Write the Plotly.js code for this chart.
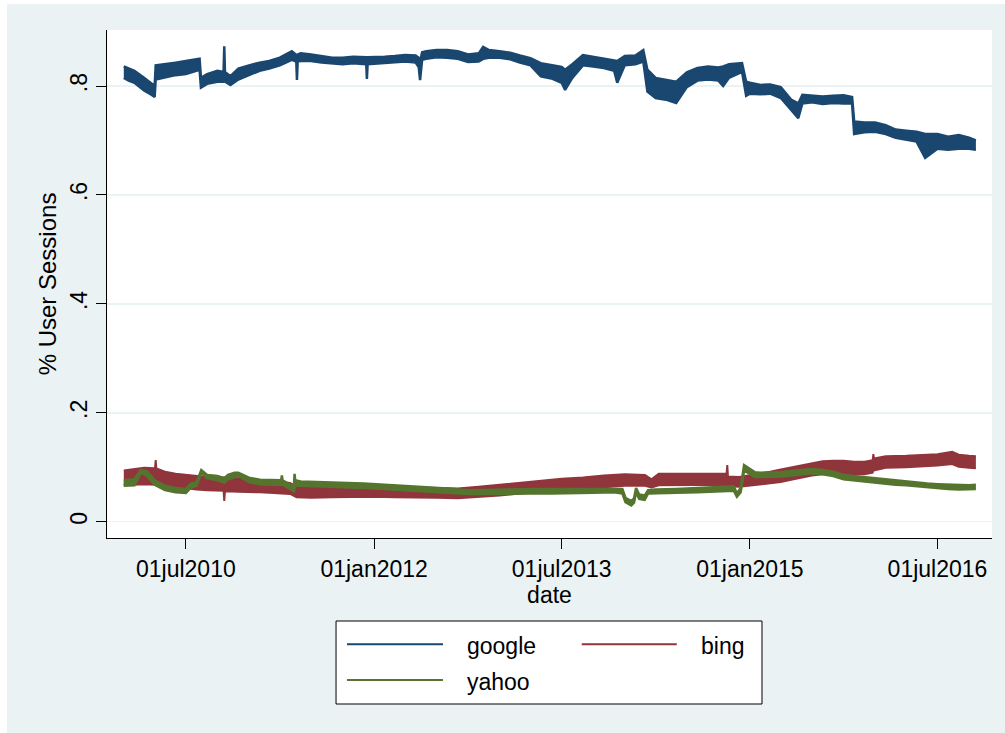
<!DOCTYPE html>
<html>
<head>
<meta charset="utf-8">
<script src="https://cdn.plot.ly/plotly-3.0.1.min.js"></script>
<style>
  html, body { margin: 0; padding: 0; background: #ffffff; }
  #chart { position: absolute; left: 7px; top: 4px; width: 998px; height: 729px; }
</style>
</head>
<body>
<div id="chart"></div>
<script>
// ---- Data (daily series shown as low/high envelopes) ----
const googleDates = ['2010-01-01','2010-01-15','2010-02-01','2010-03-01','2010-03-20','2010-04-01','2010-04-04','2010-05-01','2010-06-01','2010-07-01','2010-08-10','2010-08-14','2010-09-01','2010-10-01','2010-10-19','2010-10-21','2010-10-23','2010-11-08','2010-12-01','2011-01-01','2011-02-01','2011-03-01','2011-04-01','2011-05-06','2011-05-19','2011-05-21','2011-05-23','2011-06-01','2011-07-01','2011-08-01','2011-09-01','2011-10-01','2011-11-01','2011-12-09','2011-12-11','2011-12-13','2012-01-01','2012-02-01','2012-03-01','2012-04-01','2012-05-01','2012-05-10','2012-05-14','2012-05-20','2012-06-01','2012-07-01','2012-08-01','2012-09-01','2012-10-01','2012-11-01','2012-11-14','2012-12-01','2013-01-01','2013-02-01','2013-03-01','2013-04-01','2013-05-01','2013-06-01','2013-07-01','2013-07-11','2013-08-01','2013-09-01','2013-10-01','2013-11-01','2013-12-01','2013-12-10','2014-01-01','2014-02-01','2014-02-24','2014-03-08','2014-04-01','2014-05-01','2014-05-31','2014-07-01','2014-08-01','2014-09-01','2014-10-01','2014-10-15','2014-11-01','2014-12-09','2014-12-21','2015-01-01','2015-02-01','2015-03-01','2015-04-01','2015-05-01','2015-05-22','2015-06-03','2015-07-01','2015-08-01','2015-09-01','2015-10-01','2015-10-26','2015-11-01','2015-12-01','2016-01-01','2016-02-01','2016-03-01','2016-04-01','2016-05-01','2016-05-26','2016-07-01','2016-08-01','2016-09-01','2016-10-01','2016-10-21'];
const googleLow  = [0.815,0.810,0.806,0.792,0.785,0.780,0.812,0.816,0.820,0.822,0.830,0.797,0.804,0.808,0.808,0.810,0.808,0.802,0.812,0.820,0.828,0.832,0.838,0.848,0.845,0.811,0.845,0.846,0.846,0.843,0.841,0.840,0.842,0.840,0.813,0.840,0.841,0.842,0.843,0.845,0.843,0.835,0.811,0.848,0.850,0.853,0.852,0.850,0.844,0.845,0.850,0.852,0.852,0.849,0.843,0.838,0.818,0.814,0.806,0.793,0.815,0.838,0.836,0.833,0.828,0.806,0.838,0.840,0.845,0.790,0.778,0.775,0.769,0.798,0.810,0.812,0.810,0.800,0.815,0.826,0.782,0.786,0.785,0.786,0.778,0.755,0.741,0.768,0.770,0.767,0.769,0.768,0.768,0.712,0.715,0.716,0.712,0.705,0.702,0.698,0.668,0.685,0.683,0.685,0.685,0.683];
const googleHigh = [0.836,0.832,0.828,0.815,0.806,0.800,0.838,0.840,0.843,0.846,0.850,0.815,0.822,0.828,0.826,0.873,0.826,0.818,0.832,0.838,0.843,0.846,0.852,0.864,0.858,0.856,0.858,0.860,0.858,0.855,0.852,0.852,0.854,0.853,0.852,0.853,0.853,0.854,0.855,0.857,0.856,0.852,0.845,0.862,0.864,0.866,0.866,0.864,0.858,0.860,0.872,0.866,0.864,0.861,0.856,0.851,0.842,0.838,0.835,0.830,0.840,0.857,0.854,0.850,0.848,0.846,0.855,0.856,0.866,0.830,0.815,0.812,0.808,0.825,0.833,0.836,0.834,0.836,0.840,0.842,0.808,0.806,0.802,0.803,0.798,0.775,0.768,0.784,0.783,0.781,0.782,0.783,0.780,0.735,0.733,0.733,0.728,0.720,0.718,0.716,0.712,0.712,0.707,0.710,0.705,0.700];

const bingDates = ['2010-01-01','2010-02-01','2010-03-01','2010-04-02','2010-04-04','2010-04-06','2010-05-01','2010-06-01','2010-07-01','2010-08-01','2010-09-01','2010-10-19','2010-10-21','2010-10-23','2010-12-01','2011-01-01','2011-02-01','2011-03-01','2011-04-01','2011-05-01','2011-05-20','2011-07-01','2011-09-01','2011-11-01','2012-01-01','2012-03-01','2012-05-01','2012-07-01','2012-09-01','2012-11-01','2013-01-01','2013-03-01','2013-05-01','2013-07-01','2013-09-01','2013-11-01','2014-01-01','2014-03-01','2014-03-20','2014-04-10','2014-06-01','2014-08-01','2014-10-25','2014-10-27','2014-10-29','2014-12-01','2015-01-01','2015-02-01','2015-03-01','2015-04-01','2015-05-01','2015-06-01','2015-07-01','2015-08-01','2015-09-01','2015-10-01','2015-11-01','2015-12-01','2015-12-25','2015-12-27','2015-12-29','2016-02-01','2016-04-01','2016-06-01','2016-07-01','2016-08-13','2016-09-01','2016-10-01','2016-10-21'];
const bingLow  = [0.067,0.068,0.069,0.068,0.070,0.068,0.066,0.063,0.061,0.059,0.058,0.057,0.038,0.056,0.055,0.055,0.054,0.053,0.052,0.051,0.045,0.044,0.045,0.046,0.046,0.045,0.045,0.044,0.043,0.045,0.048,0.052,0.055,0.058,0.060,0.064,0.066,0.066,0.063,0.067,0.067,0.067,0.068,0.070,0.065,0.064,0.066,0.068,0.070,0.073,0.077,0.081,0.085,0.087,0.088,0.088,0.087,0.087,0.090,0.095,0.094,0.099,0.100,0.102,0.103,0.106,0.101,0.099,0.098];
const bingHigh = [0.094,0.097,0.099,0.098,0.113,0.098,0.092,0.088,0.086,0.084,0.082,0.081,0.081,0.080,0.080,0.079,0.077,0.075,0.073,0.071,0.064,0.064,0.064,0.065,0.064,0.064,0.063,0.062,0.061,0.064,0.068,0.072,0.076,0.079,0.081,0.085,0.087,0.086,0.078,0.088,0.088,0.088,0.088,0.104,0.083,0.082,0.085,0.088,0.092,0.096,0.100,0.104,0.108,0.111,0.112,0.112,0.110,0.110,0.113,0.124,0.116,0.120,0.121,0.123,0.124,0.1285,0.123,0.121,0.120];

const yahooDates = ['2010-01-01','2010-02-01','2010-02-20','2010-03-10','2010-04-01','2010-05-01','2010-06-01','2010-07-01','2010-07-15','2010-08-01','2010-08-15','2010-09-01','2010-10-01','2010-10-21','2010-11-01','2010-11-20','2010-12-01','2011-01-01','2011-02-01','2011-03-01','2011-04-05','2011-04-07','2011-04-09','2011-05-01','2011-05-12','2011-05-14','2011-05-16','2011-06-01','2011-08-01','2011-10-01','2011-12-01','2012-02-01','2012-04-01','2012-06-01','2012-08-01','2012-10-01','2012-12-01','2013-02-01','2013-04-01','2013-06-01','2013-08-01','2013-10-01','2013-12-01','2013-12-25','2014-01-03','2014-01-20','2014-01-28','2014-02-03','2014-02-12','2014-02-28','2014-03-10','2014-04-01','2014-06-01','2014-08-01','2014-10-01','2014-11-15','2014-11-24','2014-12-05','2014-12-15','2015-01-01','2015-01-15','2015-02-01','2015-03-01','2015-04-01','2015-05-01','2015-06-01','2015-07-01','2015-08-01','2015-09-01','2015-10-01','2015-11-01','2015-12-01','2016-01-01','2016-02-01','2016-03-01','2016-04-01','2016-05-01','2016-06-01','2016-07-01','2016-08-01','2016-09-01','2016-10-01','2016-10-21'];
const yahooLow  = [0.066,0.067,0.090,0.084,0.068,0.058,0.054,0.053,0.062,0.066,0.090,0.080,0.076,0.072,0.078,0.082,0.084,0.073,0.069,0.068,0.068,0.068,0.068,0.060,0.056,0.062,0.066,0.066,0.065,0.064,0.062,0.060,0.058,0.056,0.053,0.051,0.051,0.052,0.052,0.052,0.052,0.053,0.054,0.052,0.036,0.030,0.035,0.054,0.042,0.040,0.052,0.052,0.053,0.054,0.056,0.057,0.046,0.054,0.094,0.088,0.082,0.082,0.082,0.083,0.085,0.087,0.089,0.087,0.084,0.078,0.076,0.073,0.071,0.069,0.068,0.067,0.065,0.063,0.061,0.060,0.059,0.059,0.060];
const yahooHigh = [0.076,0.078,0.095,0.092,0.076,0.066,0.062,0.060,0.070,0.072,0.095,0.086,0.084,0.080,0.086,0.090,0.090,0.081,0.077,0.076,0.076,0.085,0.076,0.068,0.064,0.088,0.076,0.074,0.073,0.072,0.070,0.068,0.066,0.064,0.061,0.058,0.058,0.059,0.060,0.060,0.060,0.061,0.061,0.060,0.044,0.038,0.043,0.062,0.050,0.048,0.058,0.059,0.060,0.062,0.064,0.065,0.052,0.062,0.104,0.096,0.091,0.090,0.090,0.091,0.093,0.095,0.097,0.095,0.092,0.086,0.084,0.081,0.079,0.077,0.076,0.074,0.072,0.070,0.069,0.068,0.067,0.067,0.068];

const seriesNames = ['google', 'bing', 'yahoo'];
const yTickVals = [0, 0.2, 0.4, 0.6, 0.8];
const yTickText = ['0', '.2', '.4', '.6', '.8'];
const xTickVals = ['2010-07-01', '2012-01-01', '2013-07-01', '2015-01-01', '2016-07-01'];
const xTickText = ['01jul2010', '01jan2012', '01jul2013', '01jan2015', '01jul2016'];

// ---- Styling ----
const colors = { google: '#1A476F', bing: '#90353B', yahoo: '#55752F' };
const edgeWidth = { google: 2.5, bing: 2, yahoo: 2.5 };
const FONT = 'Liberation Sans, Arial, Helvetica, sans-serif';
const FS = 23;

function band(name, dates, lo, hi) {
  const c = colors[name];
  const w = edgeWidth[name];
  return [
    { x: dates, y: lo, type: 'scatter', mode: 'lines', line: { color: c, width: w },
      showlegend: false, hoverinfo: 'skip' },
    { x: dates, y: hi, type: 'scatter', mode: 'lines', line: { color: c, width: w },
      fill: 'tonexty', fillcolor: c, name: name, showlegend: false }
  ];
}

const traces = []
  .concat(band('google', googleDates, googleLow, googleHigh))
  .concat(band('bing', bingDates, bingLow, bingHigh))
  .concat(band('yahoo', yahooDates, yahooLow, yahooHigh));

// manual Stata-style legend (paper coordinates relative to plot area)
const legendItems = [
  { name: seriesNames[0], lx0: 0.2712, lx1: 0.3797, ly: -0.2093, tx: 0.4045 },
  { name: seriesNames[1], lx0: 0.5364, lx1: 0.6438, ly: -0.2093, tx: 0.6689 },
  { name: seriesNames[2], lx0: 0.2712, lx1: 0.3797, ly: -0.2795, tx: 0.4045 }
];
const shapes = [
  { type: 'rect', xref: 'paper', yref: 'paper', x0: 0.2588, x1: 0.7401, y0: -0.3268, y1: -0.1634,
    line: { color: '#000', width: 1 }, fillcolor: '#ffffff', layer: 'above' }
];
const annotations = [];
legendItems.forEach(it => {
  shapes.push({ type: 'line', xref: 'paper', yref: 'paper', x0: it.lx0, x1: it.lx1, y0: it.ly, y1: it.ly,
    line: { color: colors[it.name], width: 2 }, layer: 'above' });
  annotations.push({ xref: 'paper', yref: 'paper', x: it.tx, y: it.ly - 0.004, text: it.name,
    showarrow: false, xanchor: 'left', yanchor: 'middle', font: { family: FONT, size: FS, color: '#000' } });
});

const layout = {
  width: 998, height: 729,
  margin: { l: 100, r: 13, t: 26, b: 195, pad: 0 },
  paper_bgcolor: '#EAF2F3',
  plot_bgcolor: '#ffffff',
  font: { family: FONT, size: FS, color: '#000' },
  showlegend: false,
  xaxis: {
    type: 'date',
    range: ['2009-11-13', '2016-12-07'],
    tickvals: xTickVals, ticktext: xTickText,
    ticks: 'outside', ticklen: 10, tickcolor: '#000', tickwidth: 1,
    showline: true, linecolor: '#000', linewidth: 1,
    showgrid: false, zeroline: false,
    tickfont: { family: FONT, size: FS, color: '#000' },
    title: { text: 'date', font: { family: FONT, size: FS, color: '#000' }, standoff: 2 }
  },
  yaxis: {
    range: [-0.0299, 0.9029],
    tickvals: yTickVals, ticktext: yTickText, tickangle: -90,
    ticks: 'outside', ticklen: 10, tickcolor: '#000', tickwidth: 1,
    showline: true, linecolor: '#000', linewidth: 1,
    showgrid: true, gridcolor: '#EAF2F3', gridwidth: 1.5, zeroline: false,
    tickfont: { family: FONT, size: FS, color: '#000' },
    title: { text: '% User Sessions', font: { family: FONT, size: 24, color: '#000' }, standoff: 2 }
  },
  shapes: shapes,
  annotations: annotations
};

Plotly.newPlot('chart', traces, layout, { displayModeBar: false, staticPlot: true });
</script>
</body>
</html>
